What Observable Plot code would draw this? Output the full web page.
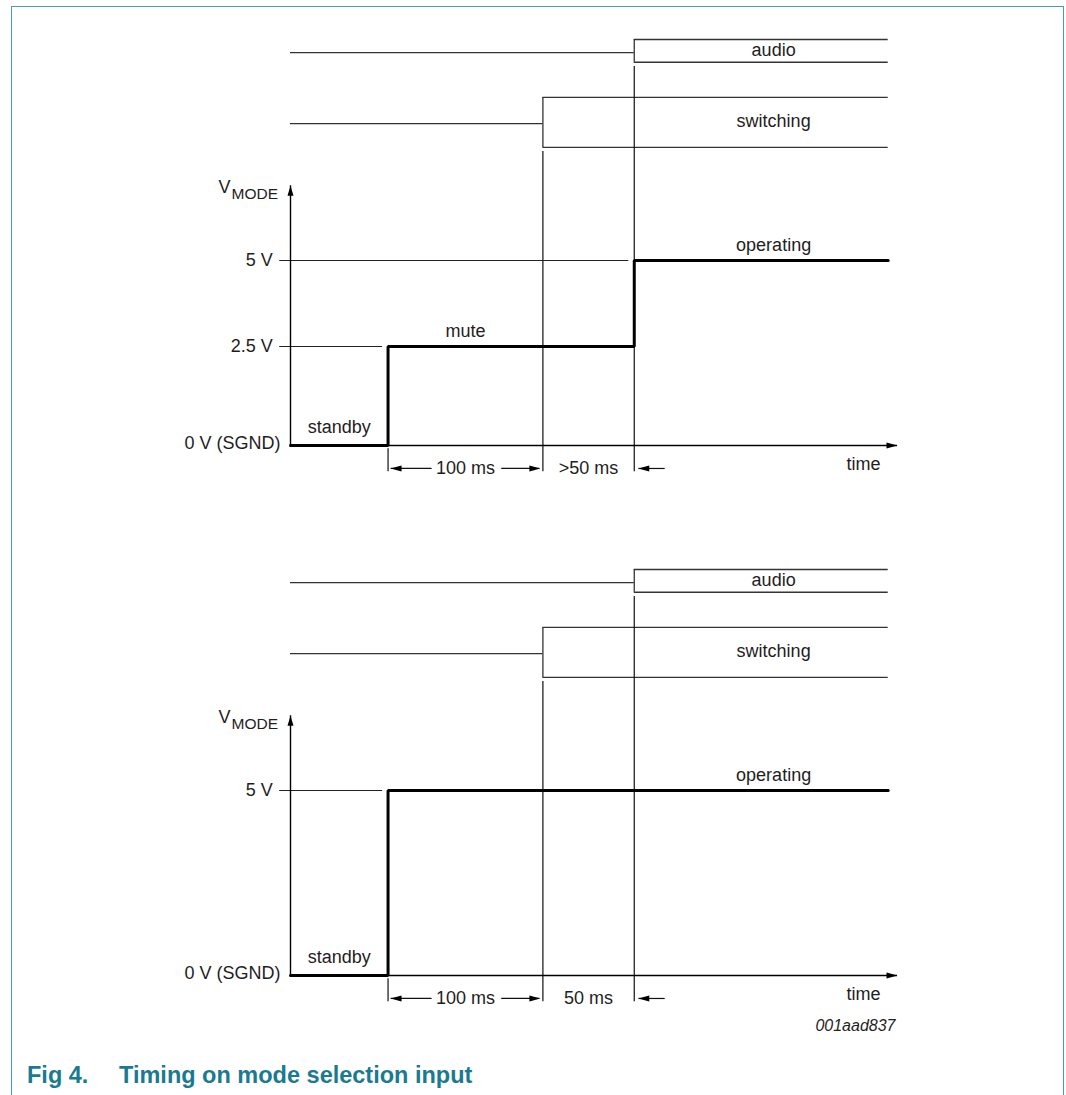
<!DOCTYPE html>
<html><head><meta charset="utf-8">
<script src="https://cdn.jsdelivr.net/npm/d3@7"></script>
<script src="https://cdn.jsdelivr.net/npm/@observablehq/plot@0.6"></script>
<style>
html,body{margin:0;padding:0;background:#fff;}
body{width:1066px;height:1095px;position:relative;overflow:hidden;font-family:"Liberation Sans",Arial,Helvetica,sans-serif;}
#frame{position:absolute;left:11px;top:6px;width:1051px;height:1200px;border:1.5px solid #4a9bb1;border-bottom:none;}
.panel{position:absolute;left:0;}
#caption{position:absolute;left:27px;top:1062px;font-weight:bold;font-size:23.5px;line-height:26px;color:#1a7a90;white-space:nowrap;}
</style></head>
<body>
<div id="frame"></div>
<div id="top" class="panel" style="top:0"></div>
<div id="bottom" class="panel" style="top:530px"></div>
<div id="caption"><span>Fig 4.</span><span style="position:absolute;left:92px">Timing on mode selection input</span></div>
<script>
// ---------- DATA ----------
// time axis (ms, schematic spacing)
const eventNames = ["mode step", "switching on", "audio on", "diagram end"];
const eventTimes = [63, 163, 222, 386];
const timeAxisEnd = 392;

// voltage levels on the V_MODE axis
const levelValues = [0, 2.5, 5];
const levelLabels = ["0 V (SGND)", "2.5 V", "5 V"];

// diagram 1: standby -> mute -> operating
const states1 = ["standby", "mute", "operating"];
const stateStart1 = [0, 63, 222];
const stateVolts1 = [0, 2.5, 5];
const intervals1 = ["100 ms", ">50 ms"];

// diagram 2: standby -> operating
const states2 = ["standby", "operating"];
const stateStart2 = [0, 63];
const stateVolts2 = [0, 5];
const intervals2 = ["100 ms", "50 ms"];

// status lanes above the V_MODE axis
const laneNames = ["switching", "audio"];
const laneStart = [163, 222];

const axisLabel = ["V", "MODE"];
const timeLabel = "time";
const figureCode = "001aad837";

// ---------- LAYOUT (not data) ----------
const FONT = "Liberation Sans, Arial, Helvetica, sans-serif";
const laneLevels = {
  switching: {low: 8.28, mid: 8.97, high: 9.73},
  audio: {low: 10.75, mid: 11.03, high: 11.41}
};
const axisTop = 7.17;
const labelColumn = 312;
const dimTop = -0.08, dimBottom = -0.66, dimRow = -0.58;
const tickStub = 7, refGap = 3.5, outerArrowLen = 20;

const upHead = {draw(c) { c.moveTo(0, 0); c.lineTo(-3, 10); c.lineTo(3, 10); c.closePath(); }};
const rightHead = {draw(c) { c.moveTo(0, 0); c.lineTo(-11, -3); c.lineTo(-11, 3); c.closePath(); }};
const leftHead = {draw(c) { c.moveTo(0, 0); c.lineTo(11, -3); c.lineTo(11, 3); c.closePath(); }};

function diagram(states, starts, volts, intervals, showCode) {
  const tEnd = eventTimes[3];
  const tStep = starts[1];
  const tSw = laneStart[0], tAu = laneStart[1];
  const lanes = laneNames.map((n, i) => ({name: n, start: laneStart[i], ...laneLevels[n]}));
  const signal = starts.map((t, i) => ({t, v: volts[i]})).concat([{t: tEnd, v: volts[volts.length - 1]}]);
  const stateRows = states.map((s, i) => {
    const last = i === states.length - 1;
    const x = last ? labelColumn : (starts[i] + Math.min(starts[i + 1], tSw)) / 2;
    return {s, v: volts[i], x};
  });
  const refLines = volts.map((v, i) => ({v, reach: starts[i]})).filter(d => d.v > 0);
  const levelRows = levelValues.map((v, i) => ({v, label: levelLabels[i]})).filter(d => volts.includes(d.v));
  const dims = [
    {label: intervals[0], x: (tStep + tSw) / 2},
    {label: intervals[1], x: (tSw + tAu) / 2}
  ];
  const txt = {fontFamily: FONT, fontSize: 18, fill: "#1e1e1e"};

  const marks = [
    // status lanes
    Plot.ruleY(lanes, {y: "mid", x1: 0, x2: "start", stroke: "#333", strokeWidth: 1.3}),
    Plot.ruleY(lanes, {y: "high", x1: "start", x2: tEnd, stroke: "#333", strokeWidth: 1.3}),
    Plot.ruleY(lanes, {y: "low", x1: "start", x2: tEnd, stroke: "#333", strokeWidth: 1.3}),
    Plot.ruleX(lanes, {x: "start", y1: "low", y2: "high", stroke: "#333", strokeWidth: 1.3}),
    Plot.text(lanes, {x: labelColumn, y: "mid", text: "name", dy: -2, ...txt}),
    // event verticals
    Plot.ruleX(lanes, {x: "start", y1: d => d.low - 0.12, y2: dimBottom, stroke: "#111", strokeWidth: 1.2}),
    // reference level lines
    Plot.ruleY(refLines, {y: "v", x1: -tickStub, x2: d => d.reach - refGap, stroke: "#222", strokeWidth: 1}),
    // axes
    Plot.ruleX([0], {y1: 0, y2: axisTop, stroke: "#000", strokeWidth: 1.4}),
    Plot.ruleY([0], {x1: 0, x2: timeAxisEnd, stroke: "#000", strokeWidth: 1.4}),
    Plot.dot([0], {x: 0, y: axisTop, symbol: upHead, fill: "#000", stroke: null}),
    Plot.dot([0], {x: timeAxisEnd, y: 0, symbol: rightHead, fill: "#000", stroke: null}),
    // V_MODE signal
    Plot.line(signal, {x: "t", y: "v", curve: "step-after", stroke: "#000", strokeWidth: 3, strokeLinejoin: "miter"}),
    Plot.text(stateRows.slice(0, 1), {x: "x", y: "v", text: "s", dy: -18, ...txt}),
    Plot.text(stateRows.slice(1), {x: "x", y: "v", text: "s", dy: -15, ...txt}),
    // level labels
    Plot.text(levelRows.filter(d => d.v > 0), {x: -tickStub, y: "v", text: "label", textAnchor: "end", dx: -7, ...txt}),
    Plot.text(levelRows.filter(d => d.v === 0), {x: 0, y: "v", text: "label", textAnchor: "end", dx: -10, dy: -2, ...txt}),
    Plot.text([axisLabel[0]], {x: 0, y: axisTop, text: d => d, textAnchor: "end", dx: -60, dy: 2, ...txt}),
    Plot.text([axisLabel[1]], {x: 0, y: axisTop, text: d => d, textAnchor: "start", dx: -59, dy: 8, ...txt, fontSize: 15.5}),
    Plot.text([timeLabel], {x: timeAxisEnd, y: 0, text: d => d, textAnchor: "end", dx: -17, dy: 19, ...txt}),
    // dimensioning
    Plot.ruleX([tStep], {x: d => d, y1: dimTop, y2: dimBottom, stroke: "#111", strokeWidth: 1.2}),
    Plot.ruleY([dimRow], {y: d => d, x1: tStep + 2, x2: tSw - 2, stroke: "#111", strokeWidth: 1.2}),
    Plot.ruleY([dimRow], {y: d => d, x1: tAu + 3, x2: tAu + outerArrowLen, stroke: "#111", strokeWidth: 1.2}),
    Plot.dot([tStep], {x: d => d, y: dimRow, symbol: leftHead, fill: "#000", stroke: null, dx: 2.5}),
    Plot.dot([tSw], {x: d => d, y: dimRow, symbol: rightHead, fill: "#000", stroke: null, dx: -2.5}),
    Plot.dot([tAu], {x: d => d, y: dimRow, symbol: leftHead, fill: "#000", stroke: null, dx: 4}),
    Plot.text(dims, {x: "x", y: dimRow, text: "label", stroke: "white", strokeWidth: 14, paintOrder: "stroke", strokeLinejoin: "round", ...txt})
  ];
  if (showCode) {
    marks.push(Plot.text([figureCode], {x: timeAxisEnd, y: 0, text: d => d, textAnchor: "end", dx: -2, dy: 50,
      fontFamily: FONT, fontSize: 16, fontStyle: "italic", fill: "#1e1e1e"}));
  }
  return Plot.plot({
    width: 1066, height: 530,
    marginTop: 0, marginRight: 0, marginBottom: 0, marginLeft: 0,
    style: {background: "transparent", fontFamily: FONT, fontSize: "18px", overflow: "visible"},
    x: {type: "linear", domain: [0, timeAxisEnd], range: [290, 897], axis: null},
    y: {type: "linear", domain: [0, 2.5, 5, 11.41], range: [445, 346, 260, 39], axis: null},
    marks
  });
}

document.getElementById("top").append(diagram(states1, stateStart1, stateVolts1, intervals1, false));
document.getElementById("bottom").append(diagram(states2, stateStart2, stateVolts2, intervals2, true));
</script>
</body></html>
